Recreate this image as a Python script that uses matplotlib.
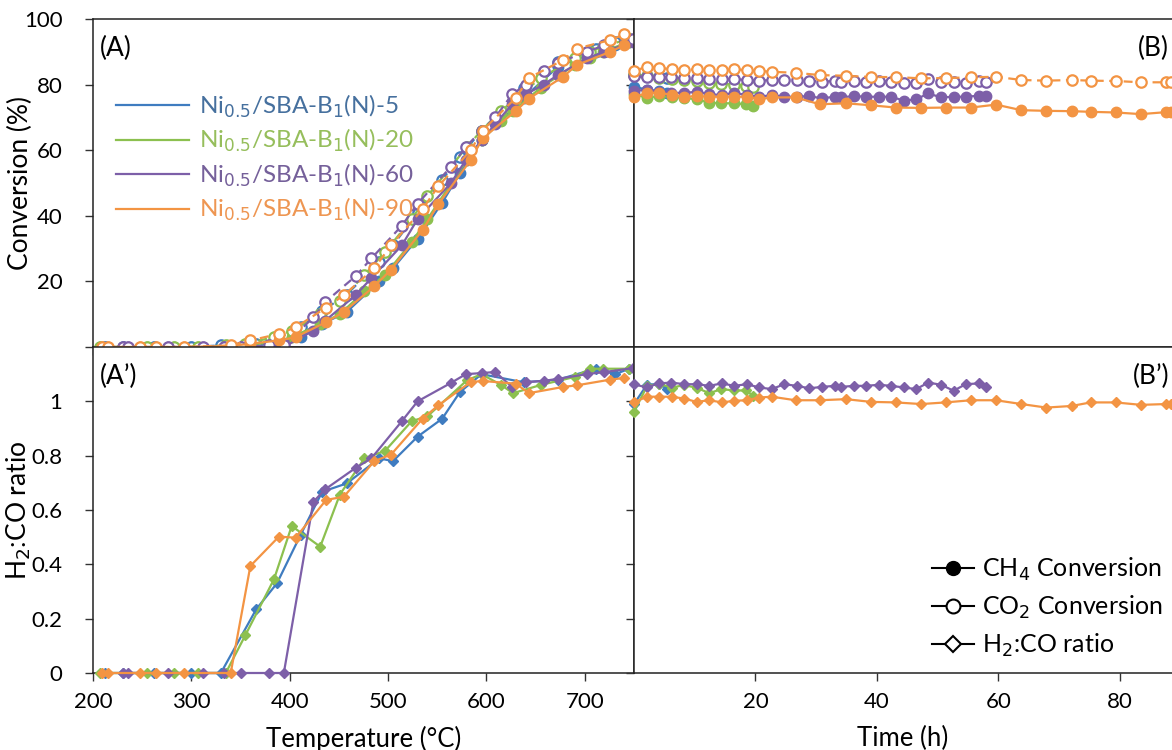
import matplotlib
matplotlib.use("Agg")
import matplotlib.pyplot as plt
from matplotlib.lines import Line2D

plt.rcParams['font.family'] = ['Lato', 'DejaVu Sans']

# ---- series names / colours
names = ['Ni$_{0.5}$/SBA-B$_1$(N)-5', 'Ni$_{0.5}$/SBA-B$_1$(N)-20',
         'Ni$_{0.5}$/SBA-B$_1$(N)-60', 'Ni$_{0.5}$/SBA-B$_1$(N)-90']
colors = ['#3F7CC0', '#8CC04F', '#7D5FA8', '#F39443']
text_colors = ['#46709E', '#96BE5C', '#75609A', '#EE9652']

# ---- (A)/(A') temperature programmed tests
t_blue = [212, 231, 262, 300, 330, 366, 387, 411, 433, 458, 491, 505, 530, 555, 573, 595, 638, 673, 711, 731, 745]
ch4_blue = [0, 0, 0, 0, 0, 0.5, 1.5, 3, 7, 10.7, 20, 24, 33, 44, 53, 63, 76, 85.5, 90, 92, 93]
co2_blue = [0, 0, 0, 0, 0.5, 1, 2.5, 6, 11, 16, 26, 31, 41, 51, 58, 66, 79, 87, 91, 93, 94]
r_blue = [0, 0, 0, 0, 0, 0.235, 0.33, 0.508, 0.667, 0.698, 0.79, 0.78, 0.87, 0.936, 1.034, 1.10, 1.07, 1.08, 1.12, 1.10, 1.12]

t_green = [207, 255, 282, 307, 335, 355, 384, 402, 431, 451, 476, 497, 524, 540, 580, 595, 615, 627, 655, 690, 705, 718, 745]
ch4_green = [0, 0, 0, 0, 0, 0.5, 1.5, 3, 7, 10, 17, 22, 32, 39, 57, 63, 69, 72, 79, 86, 88, 90, 93]
co2_green = [0, 0, 0, 0, 0.5, 1, 3, 5, 10, 14, 22, 29, 39, 46, 61, 66, 72, 75, 82, 88, 90, 91.5, 94]
r_green = [0, 0, 0, 0, 0, 0.14, 0.345, 0.541, 0.465, 0.657, 0.79, 0.818, 0.927, 0.945, 1.077, 1.10, 1.06, 1.03, 1.06, 1.09, 1.12, 1.12, 1.12]

t_purple = [231, 236, 276, 312, 333, 350, 379, 394, 424, 436, 467, 483, 514, 530, 564, 579, 595, 609, 626, 640, 658, 673, 702, 720, 749]
ch4_purple = [0, 0, 0, 0, 0, 0, 0, 0, 5, 8, 15.8, 21, 31, 39, 50, 57, 63, 68, 74, 77, 80, 83, 88, 90, 93]
co2_purple = [0, 0, 0, 0, 0, 0, 0.5, 0.5, 9, 13.7, 21.6, 27, 37, 43.7, 55, 61, 66, 70, 77, 80, 84, 86.7, 90, 92, 94]
r_purple = [0, 0, 0, 0, 0, 0, 0, 0, 0.63, 0.676, 0.755, 0.79, 0.927, 1.0, 1.068, 1.10, 1.104, 1.108, 1.053, 1.071, 1.075, 1.083, 1.10, 1.108, 1.122]

t_orange = [209, 215, 248, 264, 293, 340, 360, 389, 406, 437, 455, 486, 503, 535, 551, 584, 596, 630, 643, 678, 692, 726, 740]
ch4_orange = [0, 0, 0, 0, 0, 0.3, 1, 2, 3, 7.6, 10.7, 18.5, 23.6, 35.6, 43.5, 57, 63.6, 72, 75.7, 82.4, 86, 90, 92]
co2_orange = [0, 0, 0, 0, 0, 0.5, 2, 4, 6, 12, 15.8, 24, 31, 42, 49, 60, 66, 76, 82, 87.5, 91, 93.6, 95.3]
r_orange = [0, 0, 0, 0, 0, 0, 0.394, 0.502, 0.498, 0.637, 0.649, 0.78, 0.804, 0.936, 0.985, 1.071, 1.075, 1.065, 1.03, 1.053, 1.059, 1.08, 1.086]

# ---- (B)/(B') stability tests
h_blue = [0, 2.1, 4.1, 5.5]
ch4_blue_h = [79.3, 78.5, 78, 77.5]
co2_blue_h = [83, 82.6, 82.2, 82]
r_blue_h = [0.99, 1.06, 1.065, 1.045]

h_green = [0, 2.1, 4.1, 6.2, 8.2, 10.3, 12.4, 14.4, 16.5, 18.5, 19.6]
ch4_green_h = [77, 76, 76.5, 76.2, 76, 75.5, 74.5, 74.3, 74.3, 74.0, 73.5]
co2_green_h = [83, 82.5, 82, 81.8, 81.5, 81.2, 80.5, 80.3, 80.0, 79.6, 79.3]
r_green_h = [0.96, 1.055, 1.065, 1.05, 1.06, 1.05, 1.03, 1.045, 1.04, 1.04, 1.02]

h_purple = [0, 2.06, 4.11, 6.17, 8.29, 10.34, 12.4, 14.46, 16.51, 18.57, 20.63, 22.69, 24.74, 26.8, 28.86,
            30.91, 33.03, 34.06, 36.17, 38.23, 40.29, 42.34, 44.46, 46.46, 48.46, 50.57, 52.63, 54.63, 56.74, 57.89]
ch4_purple_h = [78, 78.5, 77.8, 77.5, 77.5, 77.8, 77.1, 76.8, 77.5, 76.8, 76.3, 76.8, 76.3, 76.3, 76.5,
                75.8, 76.3, 76.1, 76.5, 76.3, 76.3, 76.3, 75.1, 75.5, 77.3, 76.1, 76.3, 76.3, 76.6, 76.6]
co2_purple_h = [82.5, 82.4, 82.2, 82.2, 81.9, 81.9, 81.7, 81.7, 81.7, 81.4, 81.2, 81.4, 81.4, 81.4, 81.2,
                80.9, 81.1, 80.9, 81.1, 80.9, 81.1, 80.9, 80.6, 80.4, 81.7, 80.9, 80.9, 80.6, 81.1, 80.9]
r_purple_h = [1.063, 1.051, 1.066, 1.069, 1.063, 1.063, 1.057, 1.066, 1.057, 1.063, 1.051, 1.045, 1.063, 1.057, 1.048,
              1.053, 1.057, 1.053, 1.057, 1.057, 1.061, 1.057, 1.051, 1.045, 1.069, 1.061, 1.039, 1.063, 1.066, 1.053]

h_orange = [0, 2.1, 4.1, 6.2, 8.3, 10.3, 12.4, 14.5, 16.5, 18.6, 20.6, 22.7, 26.6, 30.6, 34.9,
            39.0, 43.1, 47.3, 51.3, 55.5, 59.6, 63.8, 67.9, 72.1, 75.2, 79.3, 83.5, 87.6, 88.5]
ch4_orange_h = [76.1, 77.5, 77.5, 76.9, 76.3, 76.5, 76.3, 76.3, 76.3, 76.3, 75.5, 76.1, 76.1, 74.0, 74.3,
                73.7, 73.0, 72.9, 73.0, 73.0, 73.9, 72.2, 72.0, 71.9, 71.7, 71.5, 71.0, 71.6, 71.6]
co2_orange_h = [84.2, 85.4, 85.1, 84.7, 84.4, 84.7, 84.4, 84.4, 84.7, 84.4, 84.2, 83.9, 83.6, 82.9, 82.7,
                82.3, 82.3, 81.9, 82.0, 82.2, 82.4, 81.4, 81.2, 81.4, 81.2, 81.1, 80.7, 80.7, 80.7]
r_orange_h = [0.996, 1.017, 1.017, 1.017, 1.010, 0.998, 1.004, 0.996, 1.002, 1.004, 1.014, 1.017, 1.004, 1.004, 1.008,
              0.998, 0.996, 0.990, 0.996, 1.004, 1.004, 0.990, 0.977, 0.983, 0.996, 0.996, 0.987, 0.990, 0.992]

temp_series = [(t_blue, ch4_blue, co2_blue, r_blue), (t_green, ch4_green, co2_green, r_green),
               (t_purple, ch4_purple, co2_purple, r_purple), (t_orange, ch4_orange, co2_orange, r_orange)]
time_series = [(h_blue, ch4_blue_h, co2_blue_h, r_blue_h), (h_green, ch4_green_h, co2_green_h, r_green_h),
               (h_purple, ch4_purple_h, co2_purple_h, r_purple_h), (h_orange, ch4_orange_h, co2_orange_h, r_orange_h)]

W, H = 1172, 750
fig = plt.figure(figsize=(W / 100, H / 100), dpi=100)
axA = fig.add_axes([93 / W, (H - 347) / H, 541 / W, 328 / H])
axB = fig.add_axes([634 / W, (H - 347) / H, 538 / W, 328 / H])
axA2 = fig.add_axes([93 / W, (H - 673) / H, 541 / W, 326 / H])
axB2 = fig.add_axes([634 / W, (H - 673) / H, 538 / W, 326 / H])

LW = 1.6
MS = 7.5


def draw(ax_top, ax_bot, series):
    for (x, ch4, co2, r), c in zip(series, colors):
        ax_top.plot(x, ch4, '-', color=c, lw=LW, marker='o', ms=MS, mfc=c, mec=c, clip_on=False, zorder=3)
        ax_top.plot(x, co2, color=c, lw=LW, ls=(0, (4, 2.5)), marker='o', ms=MS, mfc='white', mec=c,
                    mew=1.6, clip_on=False, zorder=3)
        ax_bot.plot(x, r, '-', color=c, lw=LW, marker='D', ms=5.5, mfc=c, mec=c, clip_on=False, zorder=3)


draw(axA, axA2, temp_series)
draw(axB, axB2, time_series)

for ax in (axA, axA2):
    ax.set_xlim(200, 750)
    ax.set_xticks([200, 300, 400, 500, 600, 700])
for ax in (axB, axB2):
    ax.set_xlim(0, 88.6)
    ax.set_xticks([20, 40, 60, 80])
    ax.spines['right'].set_visible(False)
for ax in (axA, axB):
    ax.set_ylim(0, 100)
    ax.set_yticks([0, 20, 40, 60, 80, 100])
    ax.tick_params(labelbottom=False)
for ax in (axA2, axB2):
    ax.set_ylim(0, 1.2)
    ax.set_yticks([0, 0.2, 0.4, 0.6, 0.8, 1.0])
for ax in (axB, axB2):
    ax.tick_params(labelleft=False)

axA.set_yticklabels(['', '20', '40', '60', '80', '100'])
axA2.set_yticklabels(['0', '0.2', '0.4', '0.6', '0.8', '1'])

for ax in (axA, axB, axA2, axB2):
    ax.tick_params(direction='out', length=6, width=1, color='#333333', labelsize=16)
    ax.tick_params(axis='y', pad=16)
    ax.tick_params(axis='x', pad=8)
    for s in ax.spines.values():
        s.set_color('#222222')
        s.set_linewidth(1.1)

axA.set_ylabel('Conversion (%)', fontsize=19)
axA2.set_ylabel('H$_2$:CO ratio', fontsize=19)
axA.yaxis.set_label_coords(-0.111, 0.5)
axA2.yaxis.set_label_coords(-0.111, 0.5)
axA2.set_xlabel('Temperature (°C)', fontsize=18.5)
axB2.set_xlabel('Time (h)', fontsize=18.5)
axA2.xaxis.set_label_coords(0.5, -0.163)
axB2.xaxis.set_label_coords(0.5, -0.163)

axA.text(0.013, 0.91, '(A)', transform=axA.transAxes, fontsize=19, va='center', ha='left')
axB.text(0.995, 0.91, '(B)', transform=axB.transAxes, fontsize=19, va='center', ha='right')
axA2.text(0.013, 0.91, '(A\u2019)', transform=axA2.transAxes, fontsize=19, va='center', ha='left')
axB2.text(0.995, 0.91, '(B\u2019)', transform=axB2.transAxes, fontsize=19, va='center', ha='right')

# sample legend
h_samples = [Line2D([], [], color=c, lw=LW) for c in colors]
legA = axA.legend(h_samples, names, loc='upper left', bbox_to_anchor=(0.025, 0.805), frameon=False,
                  fontsize=17.5, handlelength=3.0, handletextpad=0.4, labelspacing=0.3,
                  labelcolor=text_colors, borderaxespad=0)

# symbol legend
h_sym = [Line2D([], [], color='black', lw=1.5, marker='o', ms=10, mfc='black'),
         Line2D([], [], color='black', lw=1.5, marker='o', ms=10, mfc='white', mew=1.5),
         Line2D([], [], color='black', lw=1.5, marker='D', ms=8, mfc='white', mew=1.5)]
axB2.legend(h_sym, ['CH$_4$ Conversion', 'CO$_2$ Conversion', 'H$_2$:CO ratio'], loc='lower right',
            bbox_to_anchor=(1.0, 0.013), frameon=False, fontsize=18, handlelength=1.7,
            handletextpad=0.3, labelspacing=0.42, borderaxespad=0)

fig.savefig('out.png', dpi=100)
